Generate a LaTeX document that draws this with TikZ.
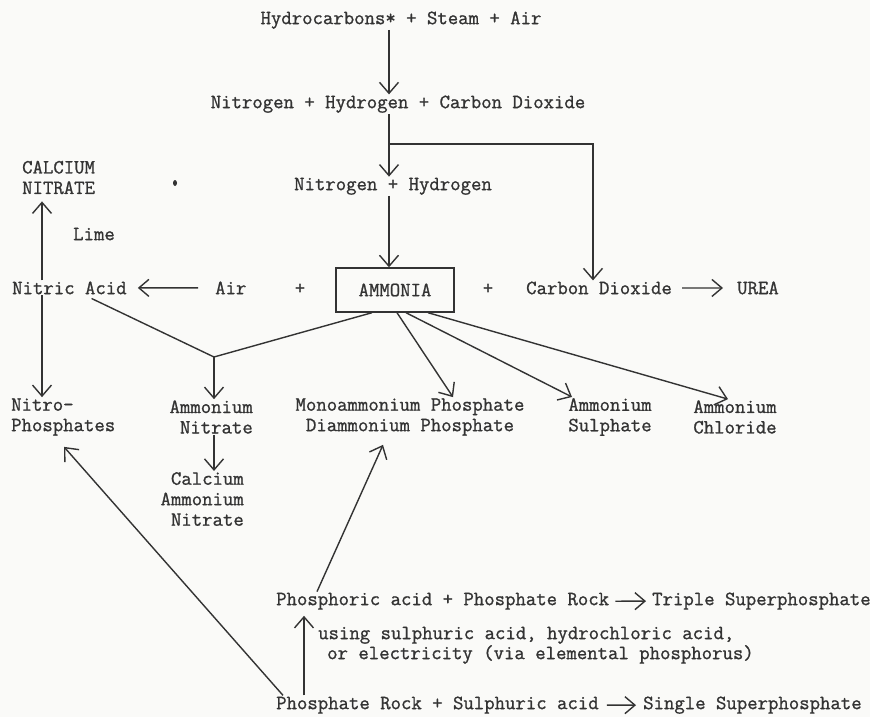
\documentclass[tikz,border=0pt]{standalone}
\usepackage{fontspec}
\newfontfamily\tw[FakeBold=1.0]{Latin Modern Mono}
\usetikzlibrary{arrows.meta}
\definecolor{ink}{HTML}{333333}
\definecolor{paper}{HTML}{FAFAF8}
\begin{document}
\begin{tikzpicture}[x=1pt,y=-1pt,
  every node/.style={font=\tw\fontsize{20.2}{20.5}\selectfont, text=ink, inner sep=1pt},
  arr/.style={-{Straight Barb[length=11pt,width=19pt]}},
  sarr/.style={-{Straight Barb[length=10pt,width=17pt]}},
  ln/.style={draw=ink, line width=1.4pt},
  ]
\fill[paper] (0,0) rectangle (870,717);
\useasboundingbox (0,0) rectangle (870,717);

\coordinate (sp) at (389,0);
\coordinate (cx) at (593,0);
\coordinate (nx) at (42,0);
\coordinate (br) at (389,144);
\coordinate (j) at (214,357);

\node[anchor=mid] (hc) at (401,22) {Hydrocarbons* + Steam + Air};
\node[anchor=mid] (nhc) at (398,106) {Nitrogen + Hydrogen + Carbon Dioxide};
\node[anchor=mid] (nh) at (393,188) {Nitrogen + Hydrogen};
\node[draw=ink, line width=1.4pt, minimum width=118pt, minimum height=44pt] (amm) at (395,290) {AMMONIA};
\node[anchor=mid] (p1) at (300,292) {+};
\node[anchor=mid] (p2) at (488,292) {+};
\node[anchor=mid west] (air) at (214,292) {Air};
\node[anchor=mid west] (nit) at (11,292) {Nitric Acid};
\node[anchor=mid west] (co2) at (525,292) {Carbon Dioxide};
\node[anchor=mid west] (urea) at (736,292) {UREA};
\node[anchor=west, align=left] (cn) at (21,177.5) {CALCIUM\\NITRATE};
\node[anchor=mid west] (lime) at (72,238) {Lime};
\fill[ink] (175,183) ellipse (2pt and 3pt);

\node[anchor=west, align=left] (np) at (10,417) {Nitro-\\Phosphates};
\node[anchor=east, align=right] (an) at (254,417) {Ammonium\\Nitrate};
\node[align=center] (map) at (410,417) {Monoammonium Phosphate\\Diammonium Phosphate};
\node[align=center] (as) at (610,417) {Ammonium\\Sulphate};
\node[align=center] (ac) at (735,417) {Ammonium\\Chloride};
\node[anchor=east, align=right] (can) at (245,499) {Calcium\\Ammonium\\Nitrate};

\node[anchor=mid west] (pa) at (275,603) {Phosphoric acid + Phosphate Rock};
\node[anchor=mid west] (tsp) at (651,603) {Triple Superphosphate};
\node[anchor=mid west] (u1) at (317,637) {using sulphuric acid, hydrochloric acid,};
\node[anchor=mid west] (u2) at (326,657) {or electricity (via elemental phosphorus)};
\node[anchor=mid west] (rock) at (275,707) {Phosphate Rock + Sulphuric acid};
\node[anchor=mid west] (ssp) at (642,707) {Single Superphosphate};

\draw[ln,arr] (hc.south -| sp) -- (nhc.north -| sp);
\draw[ln] (nhc.south -| sp) -- (br);
\draw[ln,arr] (br) -- (nh.north -| sp);
\draw[ln,arr] (br) -| (co2.north -| cx);
\draw[ln,arr] (nh.south -| sp) -- (amm.north -| sp);
\draw[ln,sarr,shorten <=16pt,shorten >=10pt] (air.west) -- (nit.east);
\draw[ln,sarr,shorten <=9pt,shorten >=13pt] (co2.east) -- (urea.west);
\draw[ln,arr,shorten >=6pt] (nit.north -| nx) -- (cn.south -| nx);
\draw[ln,arr] (nit.south -| nx) -- (np.north -| nx);
\draw[ln,shorten <=7pt] (nit) -- (j);
\draw[ln] ([xshift=-23pt]amm.south) -- (j);
\draw[ln,arr] (j) -- (an.north -| j);
\draw[ln,arr] ([xshift=2pt]amm.south) -- ([xshift=43pt]map.north);
\draw[ln,arr] ([xshift=11pt]amm.south) -- ([xshift=-38pt]as.north);
\draw[ln,arr] ([xshift=33pt]amm.south) -- ([xshift=-7pt]ac.north);
\draw[ln,arr] (an.south -| j) -- (can.north -| j);
\draw[ln,arr] ([xshift=8pt]rock.north west) -- ([xshift=54pt,yshift=-10pt]np.south west);
\draw[ln,arr] ([xshift=42pt]pa.north west) -- ([xshift=-27pt,yshift=-8pt]map.south);
\draw[ln,arr] ([xshift=29pt]rock.north west) -- ([xshift=29pt,yshift=-5pt]pa.south west);
\draw[ln,sarr,shorten <=5pt,shorten >=5pt] (pa.east) -- (tsp.west);
\draw[ln,sarr,shorten <=7pt,shorten >=6pt] (rock.east) -- (ssp.west);
\end{tikzpicture}
\end{document}
